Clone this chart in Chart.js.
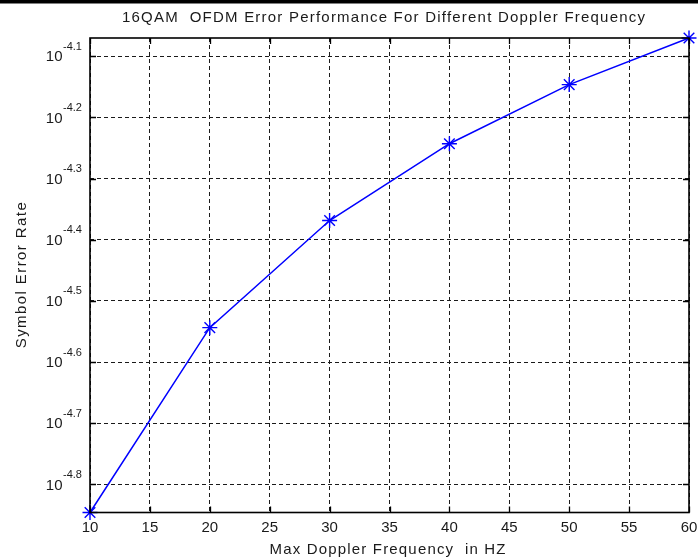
<!DOCTYPE html>
<html>
<head>
<meta charset="utf-8">
<title>16QAM OFDM Error Performance</title>
<script src="https://cdn.jsdelivr.net/npm/chart.js@4/dist/chart.umd.min.js"></script>
<style>
  html, body { margin: 0; padding: 0; background: #fff; }
  #wrap { width: 698px; height: 560px; position: relative; }
</style>
</head>
<body>
<div id="wrap"><canvas id="c" width="698" height="560"></canvas></div>
<script>
// data
const dopplerHz = [10, 20, 30, 40, 50, 60];
const symbolErrRate = [1.426e-5, 2.86e-5, 4.28e-5, 5.716e-5, 7.14e-5, 8.51e-5];
const xTicks = [10, 15, 20, 25, 30, 35, 40, 45, 50, 55, 60];
const yExponents = [-4.1, -4.2, -4.3, -4.4, -4.5, -4.6, -4.7, -4.8];
const yMin = 1.426e-5, yMax = 8.51e-5;

const titleText = '16QAM  OFDM Error Performance For Different Doppler Frequency';
const xTitle = 'Max Doppler Frequency  in HZ';
const yTitle = 'Symbol Error Rate';

const FONT = '"Liberation Sans", Arial, sans-serif';

// text stretched to the width MATLAB gave it
function spacedText(ctx, text, x, y, size, width, align) {
  ctx.font = size + 'px ' + FONT;
  ctx.letterSpacing = '0px';
  const w0 = ctx.measureText(text).width;
  const ls = width ? (width - w0) / Math.max(1, text.length - 1) : 0;
  ctx.letterSpacing = ls + 'px';
  const w = w0 + ls * (text.length - 1);
  let sx = x;
  if (align === 'center') sx = x - w / 2;
  ctx.textAlign = 'left';
  ctx.fillText(text, sx, y);
  ctx.letterSpacing = '0px';
}

const matlabFrame = {
  id: 'matlabFrame',
  beforeDraw(chart) {
    const ctx = chart.ctx;
    ctx.save();
    ctx.fillStyle = '#fff';
    ctx.fillRect(0, 0, chart.width, chart.height);
    ctx.fillStyle = '#000';
    ctx.fillRect(0, 0, chart.width, 3.5);
    ctx.restore();
  },
  afterDraw(chart) {
    const { ctx, chartArea: a, scales: { x, y } } = chart;
    ctx.save();
    // inner tick marks
    ctx.strokeStyle = '#000';
    ctx.lineWidth = 1.3;
    ctx.beginPath();
    xTicks.forEach(v => {
      const px = Math.round(x.getPixelForValue(v)) + 0.5;
      ctx.moveTo(px, a.bottom); ctx.lineTo(px, a.bottom - 6);
      ctx.moveTo(px, a.top); ctx.lineTo(px, a.top + 6);
    });
    yExponents.forEach(e => {
      const py = Math.round(y.getPixelForValue(Math.pow(10, e))) + 0.5;
      ctx.moveTo(a.left, py); ctx.lineTo(a.left + 6, py);
      ctx.moveTo(a.right, py); ctx.lineTo(a.right - 6, py);
    });
    ctx.stroke();
    // box
    ctx.lineWidth = 1.6;
    ctx.strokeRect(a.left, a.top, a.right - a.left, a.bottom - a.top);

    ctx.fillStyle = '#1a1a1a';
    ctx.textBaseline = 'middle';
    // x tick labels
    ctx.font = '15px ' + FONT;
    ctx.textAlign = 'center';
    xTicks.forEach(v => ctx.fillText(String(v), x.getPixelForValue(v), a.bottom + 15));
    // y tick labels 10^e
    yExponents.forEach(e => {
      const py = y.getPixelForValue(Math.pow(10, e));
      ctx.font = '15px ' + FONT;
      ctx.textAlign = 'right';
      ctx.fillText('10', 62.5, py + 1);
      ctx.font = '11px ' + FONT;
      ctx.textAlign = 'left';
      ctx.fillText(e.toFixed(1), 63, py - 9.5);
    });
    // titles
    ctx.textBaseline = 'middle';
    spacedText(ctx, titleText, (a.left + a.right) / 2 - 6, 17.5, 15, 523, 'center');
    spacedText(ctx, xTitle, (a.left + a.right) / 2 - 2, 550, 15, 236, 'center');
    ctx.save();
    ctx.translate(22, (a.top + a.bottom) / 2);
    ctx.rotate(-Math.PI / 2);
    spacedText(ctx, yTitle, 0, 0, 15, 146, 'center');
    ctx.restore();
    ctx.restore();
  }
};

const gridCfg = { color: '#1a1a1a', lineWidth: 1, drawTicks: false };

new Chart(document.getElementById('c'), {
  type: 'line',
  data: {
    datasets: [{
      data: dopplerHz.map((v, i) => ({ x: v, y: symbolErrRate[i] })),
      borderColor: '#0000ff',
      backgroundColor: '#0000ff',
      borderWidth: 1.5,
      pointStyle: 'star',
      pointRadius: 7.5,
      pointBorderWidth: 1.4,
      pointBorderColor: '#0000ff',
      tension: 0,
      fill: false,
      clip: false
    }]
  },
  options: {
    responsive: false,
    animation: false,
    events: [],
    layout: { padding: { left: 90, right: 9, top: 38, bottom: 47.5 } },
    plugins: { legend: { display: false }, title: { display: false }, tooltip: { enabled: false } },
    scales: {
      x: {
        type: 'linear', min: 10, max: 60,
        afterBuildTicks: s => { s.ticks = xTicks.map(v => ({ value: v })); },
        ticks: { display: false },
        grid: gridCfg,
        border: { display: false, dash: [4, 3] }
      },
      y: {
        type: 'logarithmic', min: yMin, max: yMax,
        afterBuildTicks: s => { s.ticks = yExponents.map(e => ({ value: Math.pow(10, e) })); },
        ticks: { display: false },
        grid: gridCfg,
        border: { display: false, dash: [4, 3] }
      }
    }
  },
  plugins: [matlabFrame]
});
</script>
</body>
</html>
